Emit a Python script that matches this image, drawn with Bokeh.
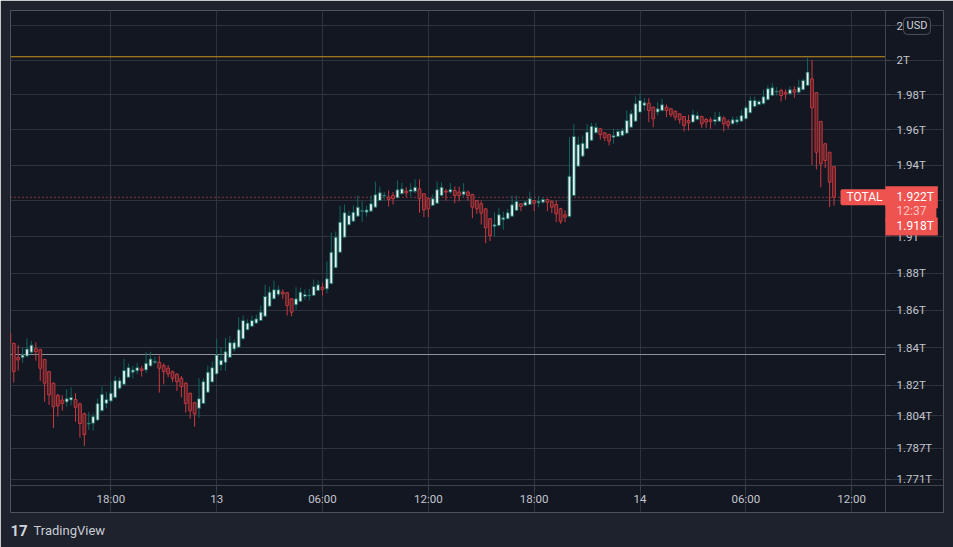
from bokeh.plotting import figure
from bokeh.models import Range1d, FixedTicker, Label, ColumnDataSource
from bokeh.embed import file_html
from bokeh.resources import INLINE

symbol = "TOTAL"
currency = "USD"
start_hour = 12.25   # first candle: day 12, 12:15 (hours since day 12, 00:00)
step_hours = 0.25    # 15-minute candles

opens = [
    1.8476, 1.8422, 1.8348, 1.8346, 1.8355, 1.8375, 1.8394, 1.8389, 1.8336, 1.8272,
    1.8211, 1.8147, 1.8122, 1.8112, 1.8122, 1.8125, 1.8102, 1.8050, 1.7996, 1.8001,
    1.8017, 1.8066, 1.8104, 1.8117, 1.8136, 1.8184, 1.8205, 1.8242, 1.8269, 1.8276,
    1.8287, 1.8281, 1.8302, 1.8321, 1.8321, 1.8304, 1.8290, 1.8272, 1.8258, 1.8237,
    1.8211, 1.8158, 1.8108, 1.8079, 1.8104, 1.8163, 1.8217, 1.8260, 1.8307, 1.8321,
    1.8348, 1.8392, 1.8402, 1.8447, 1.8495, 1.8514, 1.8531, 1.8545, 1.8568, 1.8622,
    1.8662, 1.8686, 1.8698, 1.8695, 1.8662, 1.8630, 1.8648, 1.8675, 1.8678, 1.8680,
    1.8707, 1.8725, 1.8716, 1.8744, 1.8831, 1.8916, 1.8999, 1.9067, 1.9087, 1.9115,
    1.9143, 1.9137, 1.9143, 1.9165, 1.9202, 1.9227, 1.9221, 1.9230, 1.9217, 1.9240,
    1.9254, 1.9252, 1.9254, 1.9267, 1.9240, 1.9213, 1.9174, 1.9187, 1.9230, 1.9254,
    1.9249, 1.9258, 1.9249, 1.9236, 1.9249, 1.9236, 1.9202, 1.9184, 1.9156, 1.9101,
    1.9058, 1.9063, 1.9095, 1.9101, 1.9115, 1.9147, 1.9184, 1.9174, 1.9180, 1.9202,
    1.9189, 1.9193, 1.9208, 1.9197, 1.9180, 1.9156, 1.9123, 1.9113, 1.9230, 1.9394,
    1.9451, 1.9493, 1.9540, 1.9583, 1.9606, 1.9583, 1.9573, 1.9558, 1.9562, 1.9568,
    1.9581, 1.9615, 1.9649, 1.9701, 1.9739, 1.9752, 1.9729, 1.9701, 1.9710, 1.9729,
    1.9720, 1.9706, 1.9691, 1.9676, 1.9653, 1.9644, 1.9659, 1.9676, 1.9659, 1.9657,
    1.9648, 1.9649, 1.9666, 1.9648, 1.9634, 1.9644, 1.9649, 1.9663, 1.9697, 1.9733,
    1.9745, 1.9749, 1.9772, 1.9796, 1.9816, 1.9825, 1.9815, 1.9806, 1.9829, 1.9815,
    1.9829, 1.9854, 1.9892, 1.9812, 1.9648, 1.9521, 1.9473, 1.9392,
]
highs = [
    1.8488, 1.8426, 1.8413, 1.8401, 1.8449, 1.8436, 1.8428, 1.8394, 1.8339, 1.8276,
    1.8214, 1.8154, 1.8147, 1.8179, 1.8189, 1.8158, 1.8108, 1.8056, 1.8058, 1.8052,
    1.8131, 1.8193, 1.8166, 1.8219, 1.8249, 1.8242, 1.8339, 1.8314, 1.8302, 1.8319,
    1.8302, 1.8376, 1.8378, 1.8351, 1.8357, 1.8316, 1.8307, 1.8278, 1.8264, 1.8249,
    1.8214, 1.8161, 1.8113, 1.8237, 1.8237, 1.8304, 1.8325, 1.8445, 1.8401, 1.8452,
    1.8461, 1.8444, 1.8563, 1.8572, 1.8551, 1.8572, 1.8578, 1.8626, 1.8740, 1.8729,
    1.8762, 1.8734, 1.8713, 1.8699, 1.8666, 1.8725, 1.8722, 1.8713, 1.8716, 1.8767,
    1.8762, 1.8749, 1.8865, 1.9025, 1.9030, 1.9174, 1.9180, 1.9143, 1.9174, 1.9230,
    1.9198, 1.9174, 1.9230, 1.9308, 1.9280, 1.9249, 1.9258, 1.9249, 1.9314, 1.9301,
    1.9276, 1.9299, 1.9320, 1.9320, 1.9241, 1.9219, 1.9236, 1.9308, 1.9303, 1.9267,
    1.9299, 1.9280, 1.9280, 1.9299, 1.9258, 1.9239, 1.9205, 1.9202, 1.9161, 1.9104,
    1.9136, 1.9162, 1.9141, 1.9156, 1.9230, 1.9230, 1.9187, 1.9202, 1.9252, 1.9206,
    1.9226, 1.9221, 1.9212, 1.9202, 1.9202, 1.9161, 1.9147, 1.9558, 1.9634, 1.9562,
    1.9568, 1.9634, 1.9640, 1.9640, 1.9609, 1.9587, 1.9578, 1.9606, 1.9606, 1.9612,
    1.9710, 1.9714, 1.9792, 1.9806, 1.9781, 1.9781, 1.9733, 1.9758, 1.9777, 1.9745,
    1.9724, 1.9710, 1.9695, 1.9679, 1.9686, 1.9714, 1.9704, 1.9680, 1.9668, 1.9672,
    1.9701, 1.9701, 1.9678, 1.9659, 1.9676, 1.9676, 1.9714, 1.9739, 1.9790, 1.9790,
    1.9772, 1.9831, 1.9854, 1.9867, 1.9844, 1.9835, 1.9831, 1.9850, 1.9850, 1.9887,
    1.9893, 2.0014, 2.0001, 1.9813, 1.9650, 1.9523, 1.9475, 1.9394,
]
lows = [
    1.8369, 1.8214, 1.8278, 1.8319, 1.8348, 1.8369, 1.8330, 1.8223, 1.8113, 1.8096,
    1.7976, 1.8035, 1.8066, 1.8087, 1.8092, 1.8008, 1.7925, 1.7883, 1.7965, 1.7961,
    1.8013, 1.8061, 1.8079, 1.8110, 1.8131, 1.8175, 1.8205, 1.8242, 1.8235, 1.8258,
    1.8246, 1.8264, 1.8299, 1.8311, 1.8161, 1.8205, 1.8242, 1.8216, 1.8170, 1.8136,
    1.8056, 1.8024, 1.7982, 1.8029, 1.8104, 1.8163, 1.8217, 1.8260, 1.8276, 1.8276,
    1.8348, 1.8378, 1.8402, 1.8441, 1.8491, 1.8510, 1.8527, 1.8541, 1.8568, 1.8621,
    1.8658, 1.8675, 1.8662, 1.8572, 1.8568, 1.8603, 1.8644, 1.8658, 1.8653, 1.8676,
    1.8703, 1.8680, 1.8692, 1.8744, 1.8831, 1.8916, 1.8997, 1.9063, 1.9085, 1.9113,
    1.9082, 1.9113, 1.9141, 1.9163, 1.9198, 1.9202, 1.9169, 1.9180, 1.9216, 1.9236,
    1.9221, 1.9225, 1.9243, 1.9134, 1.9110, 1.9110, 1.9170, 1.9184, 1.9225, 1.9202,
    1.9240, 1.9187, 1.9197, 1.9221, 1.9202, 1.9104, 1.9128, 1.9069, 1.8966, 1.8977,
    1.9003, 1.9058, 1.9040, 1.9097, 1.9113, 1.9143, 1.9143, 1.9169, 1.9178, 1.9143,
    1.9165, 1.9184, 1.9143, 1.9132, 1.9082, 1.9073, 1.9082, 1.9106, 1.9230, 1.9394,
    1.9451, 1.9493, 1.9536, 1.9578, 1.9544, 1.9536, 1.9511, 1.9521, 1.9558, 1.9562,
    1.9578, 1.9612, 1.9649, 1.9697, 1.9710, 1.9644, 1.9615, 1.9682, 1.9705, 1.9672,
    1.9672, 1.9653, 1.9634, 1.9591, 1.9596, 1.9638, 1.9653, 1.9612, 1.9612, 1.9606,
    1.9625, 1.9647, 1.9591, 1.9606, 1.9630, 1.9630, 1.9647, 1.9659, 1.9695, 1.9726,
    1.9739, 1.9745, 1.9768, 1.9794, 1.9796, 1.9762, 1.9772, 1.9802, 1.9783, 1.9806,
    1.9828, 1.9852, 1.9402, 1.9376, 1.9276, 1.9383, 1.9165, 1.9174,
]
closes = [
    1.8422, 1.8272, 1.8334, 1.8360, 1.8392, 1.8413, 1.8378, 1.8290, 1.8211, 1.8149,
    1.8087, 1.8091, 1.8104, 1.8129, 1.8136, 1.8084, 1.7999, 1.7942, 1.8001, 1.8035,
    1.8104, 1.8152, 1.8125, 1.8158, 1.8224, 1.8224, 1.8278, 1.8293, 1.8281, 1.8293,
    1.8278, 1.8316, 1.8339, 1.8327, 1.8290, 1.8272, 1.8260, 1.8237, 1.8219, 1.8193,
    1.8104, 1.8066, 1.8049, 1.8129, 1.8219, 1.8269, 1.8293, 1.8360, 1.8332, 1.8378,
    1.8426, 1.8426, 1.8495, 1.8545, 1.8531, 1.8545, 1.8554, 1.8590, 1.8675, 1.8698,
    1.8711, 1.8711, 1.8689, 1.8626, 1.8590, 1.8662, 1.8698, 1.8686, 1.8682, 1.8729,
    1.8738, 1.8713, 1.8771, 1.8916, 1.8999, 1.9082, 1.9134, 1.9119, 1.9137, 1.9165,
    1.9147, 1.9150, 1.9184, 1.9234, 1.9245, 1.9232, 1.9208, 1.9212, 1.9262, 1.9267,
    1.9245, 1.9262, 1.9276, 1.9212, 1.9150, 1.9156, 1.9212, 1.9262, 1.9276, 1.9249,
    1.9264, 1.9230, 1.9230, 1.9252, 1.9230, 1.9165, 1.9156, 1.9132, 1.9051, 1.9008,
    1.9067, 1.9123, 1.9106, 1.9134, 1.9178, 1.9197, 1.9169, 1.9193, 1.9212, 1.9187,
    1.9198, 1.9208, 1.9193, 1.9165, 1.9128, 1.9087, 1.9109, 1.9338, 1.9562, 1.9517,
    1.9524, 1.9587, 1.9620, 1.9614, 1.9573, 1.9555, 1.9536, 1.9568, 1.9591, 1.9596,
    1.9653, 1.9691, 1.9749, 1.9768, 1.9754, 1.9710, 1.9663, 1.9720, 1.9743, 1.9710,
    1.9687, 1.9672, 1.9657, 1.9625, 1.9640, 1.9686, 1.9682, 1.9634, 1.9644, 1.9648,
    1.9659, 1.9676, 1.9634, 1.9625, 1.9657, 1.9657, 1.9682, 1.9726, 1.9768, 1.9768,
    1.9762, 1.9789, 1.9835, 1.9841, 1.9821, 1.9796, 1.9806, 1.9829, 1.9815, 1.9844,
    1.9883, 1.9931, 1.9726, 1.9473, 1.9408, 1.9426, 1.9304, 1.9220,
]

x_ticks = [18, 24, 30, 36, 42, 48, 54, 60]
x_tick_labels = ["18:00", "13", "06:00", "12:00", "18:00", "14", "06:00", "12:00"]
y_ticks = [1.771, 1.787, 1.804, 1.82, 1.84, 1.86, 1.88, 1.9, 1.92, 1.94, 1.96, 1.98, 2, 2.02]
y_tick_labels = ["1.771T", "1.787T", "1.804T", "1.82T", "1.84T", "1.86T", "1.88T", "1.9T",
                 "1.92T", "1.94T", "1.96T", "1.98T", "2T", "2.02T"]

last_price = 1.922
last_price_text = "1.922T"
countdown = "12:37"
second_price = 1.918
second_price_text = "1.918T"
high_line = 2.002
level_line = 1.8363

# visible window: time (hours) and price (T); the price scale sits at time_end,
# the time scale at price_low, the panel extends a little beyond both
time_start, time_end, time_panel_end = 12.3141, 61.917, 65.205
price_low, price_panel_low, price_high = 1.76781, 1.75402, 2.02905

# ---- styling ----
outer_bg = "#1e222d"
plot_bg = "#131722"
grid_col = "#2f333e"
sep_col = "#3f434e"
text_col = "#c3c6ce"
up_fill, up_line = "#e9f1ef", "#11665f"
dn_fill, dn_line = "#56232a", "#cc3a40"
red = "#ef5350"
FONT = "Roboto"

n = len(closes)
assert len(opens) == len(highs) == len(lows) == n
hours = [start_hour + step_hours * i for i in range(n)]

def build(sel):
    idx = [i for i in range(n) if sel(i)]
    return ColumnDataSource(dict(
        t=[hours[i] for i in idx],
        high=[highs[i] for i in idx],
        low=[lows[i] for i in idx],
        top=[max(opens[i], closes[i]) for i in idx],
        bottom=[min(opens[i], closes[i]) for i in idx],
    ))

up_src = build(lambda i: closes[i] >= opens[i])
dn_src = build(lambda i: closes[i] < opens[i])

p = figure(width=953, height=547, output_backend="svg", toolbar_location=None,
           x_range=Range1d(time_start, time_panel_end),
           y_range=Range1d(price_panel_low, price_high),
           y_axis_type="log", y_axis_location="right",
           min_border_left=10, min_border_top=10, min_border_right=10, min_border_bottom=35,
           background_fill_color=plot_bg, border_fill_color=outer_bg,
           outline_line_color=None)

# axes drawn at the edge of the candle area
ya = p.yaxis[0]
ya.ticker = FixedTicker(ticks=y_ticks)
ya.major_label_overrides = {t: s for t, s in zip(y_ticks, y_tick_labels)}
ya.fixed_location = time_end
xa = p.xaxis[0]
xa.ticker = FixedTicker(ticks=x_ticks)
xa.major_label_overrides = {t: s for t, s in zip(x_ticks, x_tick_labels)}
xa.fixed_location = price_low
for ax, standoff in ((ya, 6), (xa, 1)):
    ax.major_tick_out = 5
    ax.major_tick_in = 0
    ax.minor_tick_line_color = None
    ax.major_tick_line_color = sep_col
    ax.axis_line_color = sep_col
    ax.major_label_text_color = text_col
    ax.major_label_text_font = FONT
    ax.major_label_text_font_size = "11.5px"
    ax.major_label_standoff = standoff

p.xgrid.ticker = FixedTicker(ticks=x_ticks)
p.ygrid.ticker = FixedTicker(ticks=y_ticks)
p.xgrid.grid_line_color = grid_col
p.ygrid.grid_line_color = grid_col
p.xgrid.bounds = (price_low, price_high)
p.ygrid.bounds = (time_start, time_end)

# reference lines
p.segment(x0=[time_start], x1=[time_end], y0=[high_line], y1=[high_line],
          line_color="#c9961f", line_width=1)
p.segment(x0=[time_start], x1=[time_end], y0=[level_line], y1=[level_line],
          line_color="#8f929b", line_width=1)
p.segment(x0=[time_start], x1=[time_end], y0=[last_price], y1=[last_price],
          line_color=red, line_width=1, line_dash="1 3")

# candles
body_w = 0.16
p.segment(x0="t", y0="low", x1="t", y1="high", source=up_src, line_color=up_line, line_width=1)
p.vbar(x="t", width=body_w, top="top", bottom="bottom", source=up_src,
       fill_color=up_fill, line_color=up_line, line_width=0.9)
p.segment(x0="t", y0="low", x1="t", y1="high", source=dn_src, line_color=dn_line, line_width=1)
p.vbar(x="t", width=body_w, top="top", bottom="bottom", source=dn_src,
       fill_color=dn_fill, line_color=dn_line, line_width=0.9)

# labels (x is the left edge of the label box, in px from the left of the panel)
def lab(text, x, y, y_units="data", place="center", **kw):
    base = dict(x=x, y=y, x_units="screen", y_units=y_units, text=text,
                text_font=FONT, text_font_size="12px", text_color="white",
                text_baseline="middle", text_align="left")
    base.update(kw)
    l = Label(**base)
    p.add_layout(l, place)
    return l

lab(symbol, 830, last_price, background_fill_color=red,
    padding=dict(left=6, right=6, top=1, bottom=1), border_radius=2)
lab(last_price_text, 875, last_price, background_fill_color=red,
    padding=dict(left=11, right=4, top=4, bottom=4))
lab(countdown, 875, last_price, y_offset=-14, text_color="#f8c2c1",
    background_fill_color=red, padding=dict(left=11, right=10, top=3, bottom=3))
lab(second_price_text, 875, second_price, y_offset=-22, background_fill_color=red,
    padding=dict(left=11, right=4, top=2, bottom=2))
lab(currency, 893, y_ticks[-1], text_font_size="11px", text_color="#d1d4dc",
    background_fill_color=plot_bg, border_line_color="#50535e", border_radius=4,
    padding=dict(left=3, right=3, top=2, bottom=2))
# TradingView logo in the strip below the chart
lab("TradingView", 23, -3, y_units="screen", place="below",
    text_font_size="13px", text_color="#c9ccd4")
lab("17", 0, 8, y_units="screen", place="below",
    text_font_size="15px", text_font_style="bold", text_color="#d1d4dc")

open("out.html", "w").write(file_html(p, INLINE))
